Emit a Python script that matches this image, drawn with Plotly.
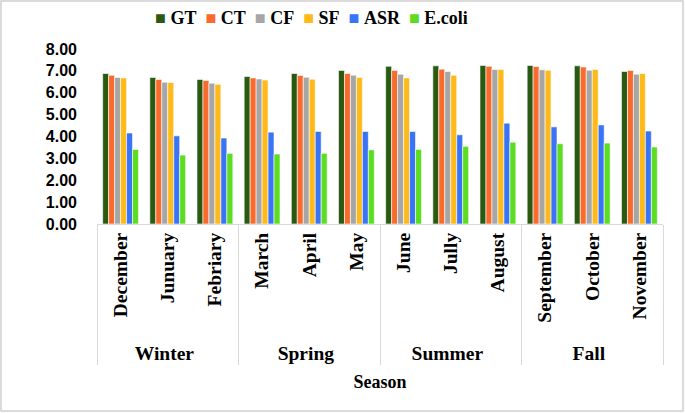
import plotly.graph_objects as go

seasons = ["Winter"] * 3 + ["Spring"] * 3 + ["Summer"] * 3 + ["Fall"] * 3
months = ["December", "Junuary", "Febriary", "March", "April", "May",
          "June", "Jully", "August", "September", "October", "November"]

GT = [6.88, 6.70, 6.61, 6.74, 6.88, 7.02, 7.21, 7.23, 7.25, 7.25, 7.23, 6.97]
CT = [6.80, 6.61, 6.56, 6.68, 6.79, 6.88, 7.02, 7.08, 7.21, 7.20, 7.18, 7.02]
CF = [6.70, 6.48, 6.44, 6.63, 6.71, 6.80, 6.85, 6.97, 7.06, 7.05, 7.03, 6.85]
SF = [6.68, 6.47, 6.39, 6.58, 6.62, 6.70, 6.68, 6.80, 7.06, 7.03, 7.06, 6.88]
ASR = [4.16, 4.03, 3.93, 4.20, 4.23, 4.23, 4.23, 4.08, 4.61, 4.44, 4.53, 4.25]
ECOLI = [3.41, 3.15, 3.23, 3.20, 3.23, 3.39, 3.41, 3.55, 3.74, 3.67, 3.70, 3.52]

series_names = ["GT", "CT", "CF", "SF", "ASR", "E.coli"]
series_values = [GT, CT, CF, SF, ASR, ECOLI]
series_colors = ["#2A5A12", "#FA6A2C", "#A6A6A6", "#FDBA1A", "#3A74F6", "#5CDD22"]

y_ticks = [0, 1, 2, 3, 4, 5, 6, 7, 8]

fig = go.Figure()
for name, vals, color in zip(series_names, series_values, series_colors):
    fig.add_trace(go.Bar(x=[seasons, months], y=vals, name=name,
                         marker=dict(color=color, line=dict(color="white", width=0.6))))

serif = "Liberation Serif"

# legend drawn as one line of text (compact, like the original)
legend_text = "&nbsp;&nbsp;".join(
    f"<span style='color:{c}'>■</span>&nbsp;{n}" for n, c in zip(series_names, series_colors))

L, R, T, B = 97, 22, 49, 189
pw, ph = 685 - L - R, 413 - T - B

fig.update_layout(
    width=685, height=413,
    margin=dict(l=L, r=R, t=T, b=B, autoexpand=False),
    paper_bgcolor="white", plot_bgcolor="white",
    barmode="group", bargap=0.24, bargroupgap=0,
    font=dict(family=serif, color="black"),
    showlegend=False,
    xaxis=dict(type="multicategory", tickangle=-90, showline=True, linecolor="#D9D9D9",
               linewidth=1, ticks="",
               showdividers=True, dividercolor="#D9D9D9", dividerwidth=1,
               tickfont=dict(family=serif, size=19.5, color="black", weight="bold"),
               title=dict(text="Season", font=dict(family=serif, size=18, color="black", weight="bold"),
                          standoff=12),
               showgrid=False, automargin=False),
    yaxis=dict(range=[0, 8], tickvals=y_ticks, tickformat=".2f", showgrid=False,
               zeroline=False, showline=False, ticks="", ticklabelstandoff=19,
               tickfont=dict(family="Liberation Sans", size=16, color="black", weight="bold"),
               automargin=False),
    annotations=[dict(text=legend_text, xref="paper", yref="paper",
                      x=(311 - L) / pw, y=1 + (T - 18) / ph, xanchor="center", yanchor="middle",
                      showarrow=False,
                      font=dict(family=serif, size=18, color="black", weight="bold"))],
    shapes=[dict(type="rect", xref="paper", yref="paper",
                 x0=(1 - L) / pw, x1=(683 - L) / pw,
                 y0=(T + ph - 411) / ph, y1=(T + ph - 1) / ph,
                 line=dict(color="#D0D0D0", width=1.5))],
)
fig.write_html("out.html", config={"displayModeBar": False},
               post_script="document.body.style.margin='0';")
